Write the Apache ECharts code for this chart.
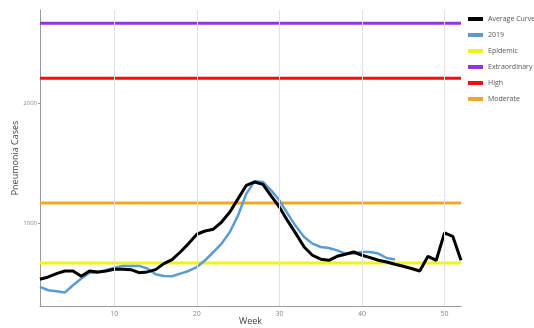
<!DOCTYPE html>
<html>
<head>
<meta charset="utf-8">
<script src="https://cdn.jsdelivr.net/npm/echarts@6/dist/echarts.min.js"></script>
<style>
  html, body { margin: 0; padding: 0; background: #fff; }
  #chart { width: 534px; height: 328px; }
</style>
</head>
<body>
<div id="chart"></div>
<script>
// week numbers 1..52
var weeks = [];
for (var i = 1; i <= 52; i++) weeks.push(i);

// average curve
var avgCurve = [531, 550, 578, 600, 600, 556, 600, 592, 600, 614,
  614, 611, 586, 592, 611, 661, 695, 758, 828, 906,
  933, 948, 1008, 1092, 1203, 1314, 1342, 1322, 1225, 1133,
  1017, 911, 800, 731, 698, 689, 722, 739, 758, 731,
  711, 689, 675, 656, 639, 620, 600, 722, 689, 917,
  889, 689];

// 2019 season, stops at week 44
var season2019 = [467, 439, 431, 420, 481, 537, 586, 586, 606, 628,
  642, 642, 642, 620, 572, 558, 556, 578, 600, 633,
  689, 758, 828, 925, 1064, 1245, 1347, 1342, 1272, 1189,
  1078, 972, 883, 828, 800, 792, 772, 745, 745, 758,
  758, 745, 708, 695];

// threshold levels
var epidemic = 667;
var extraordinary = 2664;
var high = 2206;
var moderate = 1167;

var yTicks = [1000, 2000];
var xTicks = [10, 20, 30, 40, 50];

function pairs(xs, ys) {
  return ys.map(function (v, i) { return [xs[i], v]; });
}
function flat(v) {
  return [[1, v], [52, v]];
}

var chart = echarts.init(document.getElementById("chart"));
var font = "Open Sans";

var option = {
  backgroundColor: "#fff",
  animation: false,
  textStyle: { fontFamily: font },
  grid: { left: 40, right: 73, top: 10, bottom: 22, containLabel: false, outerBoundsMode: "none" },
  legend: {
    data: ["Average Curve", "2019", "Epidemic", "Extraordinary", "High", "Moderate"],
    orient: "vertical",
    left: 468,
    top: 14,
    padding: 0,
    itemWidth: 15,
    itemHeight: 4,
    itemGap: 6,
    icon: "rect",
    textStyle: { fontSize: 7, color: "#555", fontFamily: font, lineHeight: 10 }
  },
  xAxis: {
    type: "value",
    min: 1,
    max: 52,
    name: "Week",
    nameLocation: "middle",
    nameGap: 11,
    nameMoveOverlap: false,
    nameTextStyle: { fontSize: 9, color: "#444" },
    axisLine: { show: true, lineStyle: { color: "#999" } },
    axisTick: { show: false },
    splitLine: { show: false },
    axisLabel: { customValues: xTicks, fontSize: 7, color: "#888", margin: 4 }
  },
  yAxis: {
    type: "value",
    min: 308,
    max: 2775,
    name: "Pneumonia Cases",
    nameLocation: "middle",
    nameGap: 20,
    nameMoveOverlap: false,
    nameTextStyle: { fontSize: 9, color: "#444" },
    axisLine: { show: true, lineStyle: { color: "#999" } },
    axisTick: { show: true, customValues: yTicks, length: 2, lineStyle: { color: "#999" } },
    splitLine: { show: false },
    axisLabel: {
      customValues: yTicks, fontSize: 6, color: "#888", margin: 3,
      formatter: function (v) { return String(v); }
    }
  },
  series: [
    {
      // vertical grid lines
      name: "grid",
      type: "line",
      data: [],
      silent: true,
      markLine: {
        symbol: "none",
        silent: true,
        label: { show: false },
        lineStyle: { color: "#e2e2e2", width: 1, type: "solid" },
        data: xTicks.map(function (v) { return { xAxis: v }; })
      }
    },
    { name: "Extraordinary", type: "line", data: flat(extraordinary), symbol: "none", color: "#9b30e8", lineStyle: { width: 3 } },
    { name: "High", type: "line", data: flat(high), symbol: "none", color: "#f01010", lineStyle: { width: 3 } },
    { name: "Moderate", type: "line", data: flat(moderate), symbol: "none", color: "#f5a623", lineStyle: { width: 3 } },
    { name: "Epidemic", type: "line", data: flat(epidemic), symbol: "none", color: "#f2f21a", lineStyle: { width: 3 } },
    { name: "2019", type: "line", data: pairs(weeks, season2019), symbol: "none", color: "#5a9bd3", lineStyle: { width: 2.5 } },
    { name: "Average Curve", type: "line", data: pairs(weeks, avgCurve), symbol: "none", color: "#000", lineStyle: { width: 3 } }
  ]
};

chart.setOption(option);
</script>
</body>
</html>
